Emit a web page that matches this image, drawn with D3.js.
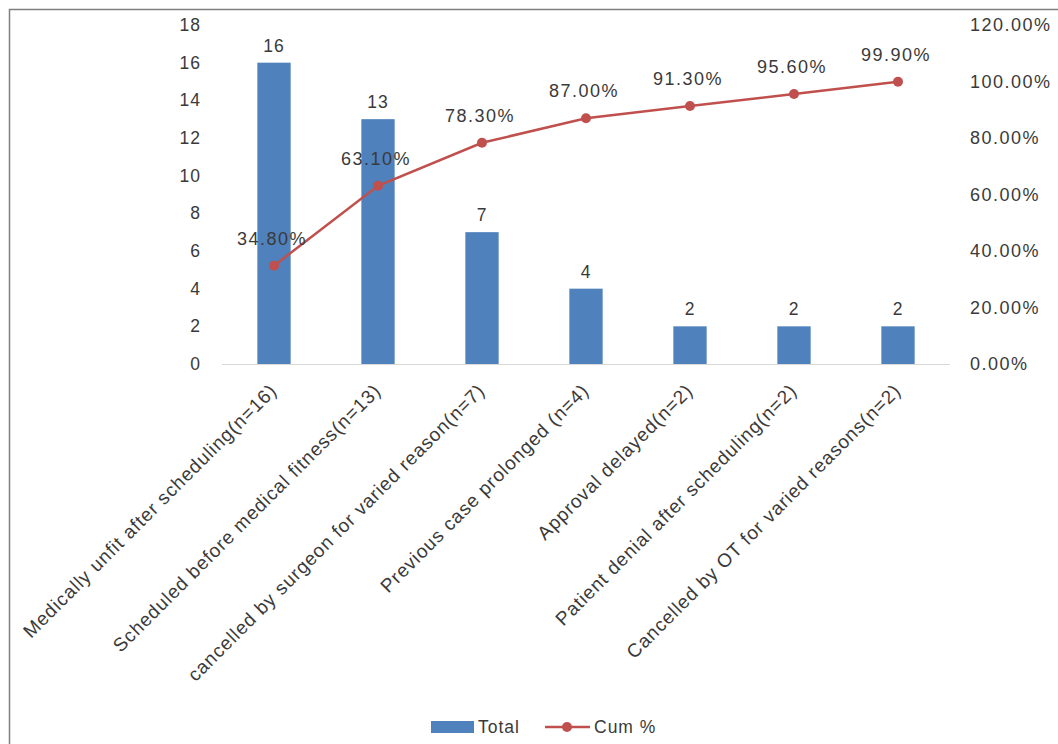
<!DOCTYPE html>
<html><head><meta charset="utf-8">
<script src="https://cdn.jsdelivr.net/npm/d3@7"></script>
<style>body{margin:0;background:#fff;} text{font-family:"Liberation Sans",Arial,sans-serif;}</style>
</head><body><svg id="c" width="1058" height="744"></svg>
<script>
const categories = ["Medically unfit after scheduling(n=16)","Scheduled before medical fitness(n=13)","cancelled by surgeon for varied reason(n=7)","Previous case prolonged (n=4)","Approval delayed(n=2)","Patient denial after scheduling(n=2)","Cancelled by OT for varied reasons(n=2)"];
const totals = [16,13,7,4,2,2,2];
const cumPct = [34.8,63.1,78.3,87.0,91.3,95.6,99.9];
const leftTicks = [0,2,4,6,8,10,12,14,16,18];
const rightTicks = [0,20,40,60,80,100,120];
const seriesNames = ["Total","Cum %"];

const svg = d3.select("#c");
const W=1058,H=744;
svg.append("rect").attr("width",W).attr("height",H).attr("fill","#fff");
svg.append("path").attr("d",`M9.5,${H} V9.5 H${W}`).attr("fill","none").attr("stroke","#7f7f7f").attr("stroke-width",1.5);

const x0=222,x1=950,yTop=25,yBot=364;
const x=d3.scaleBand().domain(categories).range([x0,x1]).paddingInner(0.68).paddingOuter(0.34);
const yL=d3.scaleLinear().domain([0,18]).range([yBot,yTop]);
const yR=d3.scaleLinear().domain([0,120]).range([yBot,yTop]);
const blue="#4F81BD", red="#C0504D", txt="#3a3a3a";
const FS=17.5, LS=1.0, FS2=18, LS2=1.5;

svg.append("line").attr("x1",x0).attr("x2",x1).attr("y1",yBot+0.5).attr("y2",yBot+0.5).attr("stroke","#d9d9d9").attr("stroke-width",1);

const gl=svg.append("g").attr("transform",`translate(${x0-21},0)`).call(d3.axisLeft(yL).tickValues(leftTicks).tickSize(0).tickPadding(0));
gl.select(".domain").remove();
gl.selectAll("text").attr("font-size",FS).attr("letter-spacing",LS).attr("fill",txt).attr("font-family","Liberation Sans");
const gr=svg.append("g").attr("transform",`translate(${x1+20},0)`).call(d3.axisRight(yR).tickValues(rightTicks).tickSize(0).tickPadding(0).tickFormat(d=>d.toFixed(2)+"%"));
gr.select(".domain").remove();
gr.selectAll("text").attr("font-size",FS2).attr("letter-spacing",LS2).attr("fill",txt).attr("font-family","Liberation Sans");

svg.selectAll(".bar").data(totals).enter().append("rect")
  .attr("x",(d,i)=>x(categories[i])).attr("width",x.bandwidth())
  .attr("y",d=>yL(d)).attr("height",d=>yBot-yL(d)).attr("fill",blue);
svg.selectAll(".bl").data(totals).enter().append("text")
  .attr("x",(d,i)=>x(categories[i])+x.bandwidth()/2).attr("y",d=>yL(d)-11)
  .attr("text-anchor","middle").attr("font-size",FS).attr("letter-spacing",LS).attr("fill",txt).text(d=>d);

const cx=i=>x(categories[i])+x.bandwidth()/2;
svg.append("path").datum(cumPct).attr("fill","none").attr("stroke",red).attr("stroke-width",2.5)
  .attr("d",d3.line().x((d,i)=>cx(i)).y(d=>yR(d)));
svg.selectAll(".pt").data(cumPct).enter().append("circle").attr("cx",(d,i)=>cx(i)).attr("cy",d=>yR(d)).attr("r",5).attr("fill",red);
svg.selectAll(".pl").data(cumPct).enter().append("text")
  .attr("x",(d,i)=>cx(i)-2).attr("y",d=>yR(d)-21)
  .attr("text-anchor","middle").attr("font-size",FS2).attr("letter-spacing",LS2).attr("fill",txt).text(d=>d.toFixed(2)+"%");

categories.forEach((c,i)=>{
  svg.append("text").attr("transform",`translate(${cx(i)+4},${yBot+28}) rotate(-45)`)
   .attr("text-anchor","end").attr("font-size",19).attr("letter-spacing",0.9).attr("fill",txt).text(c);
});

const ly=727;
svg.append("rect").attr("x",431).attr("y",ly-6).attr("width",43).attr("height",12).attr("fill",blue);
svg.append("text").attr("x",478).attr("y",ly+6).attr("font-size",FS).attr("letter-spacing",LS).attr("fill",txt).text(seriesNames[0]);
svg.append("line").attr("x1",545).attr("x2",590).attr("y1",ly).attr("y2",ly).attr("stroke",red).attr("stroke-width",2.5);
svg.append("circle").attr("cx",567).attr("cy",ly).attr("r",5).attr("fill",red);
svg.append("text").attr("x",594).attr("y",ly+6).attr("font-size",FS).attr("letter-spacing",LS).attr("fill",txt).text(seriesNames[1]);
</script></body></html>
